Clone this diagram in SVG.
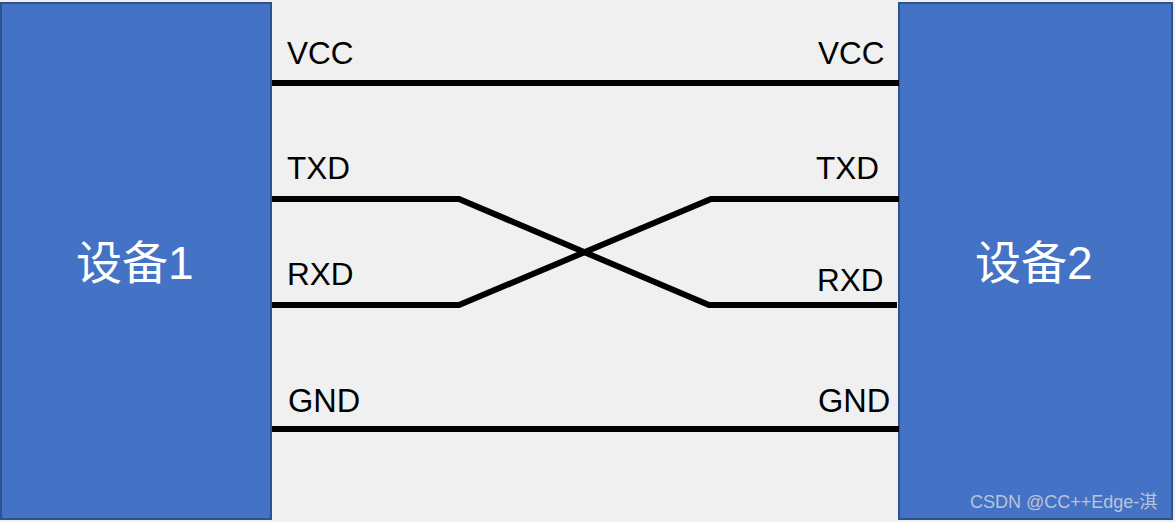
<svg xmlns="http://www.w3.org/2000/svg" width="1175" height="522" viewBox="0 0 1175 522">
<style>
.dev{fill:#4472c4;stroke:#2f528f;stroke-width:2}
.w{fill:none;stroke:#000;stroke-width:6}
text{font-family:"Liberation Sans","Noto Sans CJK SC",sans-serif}
.l{font-size:31.5px;fill:#000}
.g{font-size:32.5px}
.t{font-size:46px;fill:#fff}
.m{font-size:18px;fill:#b9c4da}
</style>
<rect width="1175" height="522" fill="#f0f0f0"/>
<g id="device1"><rect class="dev" x="1" y="3" width="270" height="516"/><text class="t" x="76" y="279">设备1</text></g>
<g id="device2"><rect class="dev" x="899" y="3" width="273" height="516"/><text class="t" x="975" y="279">设备2</text></g>
<g id="connectors">
<path class="w" d="M272 83H899"/>
<path class="w" d="M272 199H459L709 305H897"/>
<path class="w" d="M272 305H459L711 199H899"/>
<path class="w" d="M272 429H899"/>
</g>
<g id="labels">
<text class="l" x="287" y="64">VCC</text><text class="l" x="818" y="64">VCC</text>
<text class="l" x="287" y="179">TXD</text><text class="l" x="816" y="179">TXD</text>
<text class="l" x="287" y="285">RXD</text><text class="l" x="817" y="291">RXD</text>
<text class="l g" x="288" y="412">GND</text><text class="l g" x="818" y="412">GND</text>
</g>
<text class="m" x="970" y="508">CSDN @CC++Edge-淇</text>
</svg>
